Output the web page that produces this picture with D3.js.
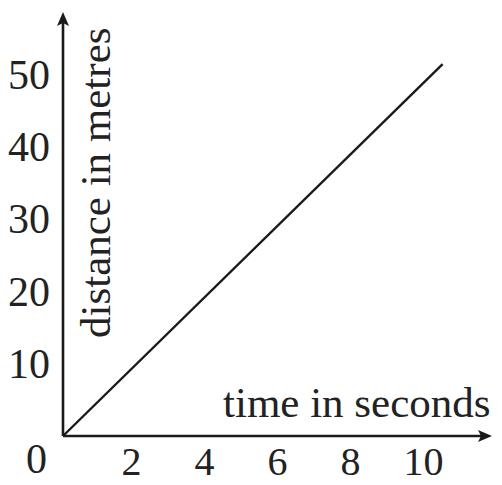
<!DOCTYPE html>
<html lang="en">
<head>
    <meta charset="UTF-8">
    <title>Distance against time</title>
    <script src="https://d3js.org/d3.v7.min.js"></script>
    <style>
        body { margin: 0; background: #fff; }
        svg { display: block; }
        text { font-family: "Liberation Serif", "DejaVu Serif", serif; fill: #222; }
    </style>
</head>
<body>
    <script>
        // data
        const timeValues = [0, 10.4];        // seconds
        const distanceValues = [0, 51.5];    // metres
        const xTicks = [2, 4, 6, 8, 10];
        const yTicks = [0, 10, 20, 30, 40, 50];
        const xTitle = "time in seconds";
        const yTitle = "distance in metres";

        const w = 502;
        const h = 485;
        const originX = 63;
        const originY = 436;
        const ink = "#1a1a1a";

        const svg = d3.select("body").append("svg")
            .attr("width", w)
            .attr("height", h);

        const xScale = d3.scaleLinear().domain([0, 10]).range([originX, 428]);
        const yScale = d3.scaleLinear().domain([0, 50]).range([originY, 75]);

        // axis lines with arrow heads
        svg.append("line")
            .attr("x1", originX).attr("y1", originY)
            .attr("x2", 486).attr("y2", originY)
            .attr("stroke", ink).attr("stroke-width", 2.6);
        svg.append("path")
            .attr("d", `M492,${originY} L478,${originY - 6} L481,${originY} L478,${originY + 6} Z`)
            .attr("fill", ink);
        svg.append("line")
            .attr("x1", originX).attr("y1", originY)
            .attr("x2", originX).attr("y2", 18)
            .attr("stroke", ink).attr("stroke-width", 2.6);
        svg.append("path")
            .attr("d", `M${originX},12 L${originX - 6},26 L${originX},23 L${originX + 6},26 Z`)
            .attr("fill", ink);

        // tick labels through d3 axes, no tick marks
        const xAxis = d3.axisBottom(xScale).tickValues(xTicks).tickSize(0).tickPadding(11);
        const gx = svg.append("g")
            .attr("transform", `translate(0,${originY})`)
            .call(xAxis);
        gx.select(".domain").remove();
        gx.selectAll("text")
            .attr("dx", -5)
            .style("font-size", "40px")
            .style("font-family", "Liberation Serif");

        const yAxis = d3.axisLeft(yScale).tickValues(yTicks).tickSize(0).tickPadding(13);
        const gy = svg.append("g")
            .attr("transform", `translate(${originX},0)`)
            .call(yAxis);
        gy.select(".domain").remove();
        gy.selectAll("text")
            .style("font-size", "42px")
            .style("font-family", "Liberation Serif");
        // the zero sits below the corner
        gy.selectAll(".tick").filter(d => d === 0).select("text")
            .attr("x", -16)
            .attr("y", 23);

        // the line
        const pts = timeValues.map((t, i) => [t, distanceValues[i]]);
        svg.append("path")
            .datum(pts)
            .attr("fill", "none")
            .attr("stroke", ink)
            .attr("stroke-width", 2.4)
            .attr("d", d3.line().x(d => xScale(d[0])).y(d => yScale(d[1])));

        // axis titles
        svg.append("text")
            .attr("x", 223)
            .attr("y", 417)
            .style("font-size", "43px")
            .text(xTitle);
        svg.append("text")
            .attr("transform", "translate(110,338) rotate(-90)")
            .style("font-size", "43px")
            .text(yTitle);
    </script>
</body>
</html>
